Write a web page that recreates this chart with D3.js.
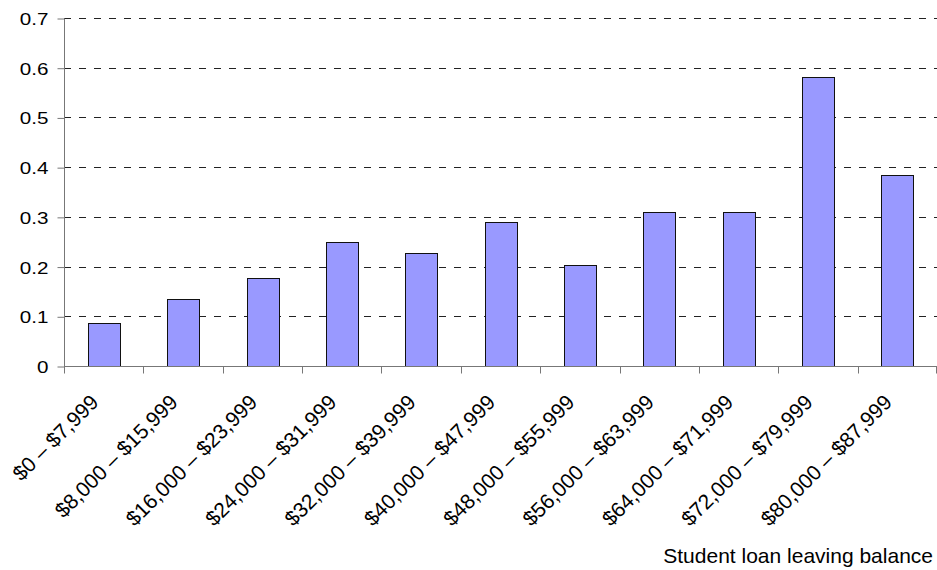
<!doctype html>
<html>
<head>
<meta charset="utf-8">
<style>
body { margin: 0; background: white; font-family: "Liberation Sans", Arial, sans-serif; }
</style>
<script src="https://cdnjs.cloudflare.com/ajax/libs/d3/7.8.5/d3.min.js"></script>
</head>
<body>
<div id="chart"></div>
<script>
var categories = ["$0 \u2013 $7,999", "$8,000 \u2013 $15,999", "$16,000 \u2013 $23,999", "$24,000 \u2013 $31,999",
  "$32,000 \u2013 $39,999", "$40,000 \u2013 $47,999", "$48,000 \u2013 $55,999", "$56,000 \u2013 $63,999",
  "$64,000 \u2013 $71,999", "$72,000 \u2013 $79,999", "$80,000 \u2013 $87,999"];
var values = [0.086, 0.134, 0.178, 0.249, 0.227, 0.29, 0.203, 0.31, 0.31, 0.581, 0.384];
var yTicks = [0, 0.1, 0.2, 0.3, 0.4, 0.5, 0.6, 0.7];
var xTitle = "Student loan leaving balance";

var width = 937, height = 570;
var mLeft = 64, mRight = 937, mTop = 18, mBottom = 366;

var svg = d3.select("#chart").append("svg")
  .attr("width", width).attr("height", height);

var x = d3.scaleBand().domain(categories).range([mLeft, mRight]);
var y = d3.scaleLinear().domain([0, 0.7]).range([mBottom, mTop]);

// dashed gridlines
svg.append("g").selectAll("line")
  .data(yTicks.filter(function(d) { return d > 0; }))
  .enter().append("line")
  .attr("x1", mLeft).attr("x2", mRight)
  .attr("y1", function(d) { return Math.round(y(d)) + 0.5; })
  .attr("y2", function(d) { return Math.round(y(d)) + 0.5; })
  .attr("stroke", "#222").attr("stroke-width", 1)
  .attr("stroke-dasharray", "7,8");

// bars
var bw = x.bandwidth() * 0.4;
svg.append("g").selectAll("rect")
  .data(values)
  .enter().append("rect")
  .attr("x", function(d, i) { return Math.round(x(categories[i]) + x.bandwidth() / 2 - bw / 2) + 0.5; })
  .attr("y", function(d) { return Math.round(y(d)) + 0.5; })
  .attr("width", Math.round(bw))
  .attr("height", function(d) { return Math.round(y(0)) - Math.round(y(d)); })
  .attr("fill", "#9999ff").attr("stroke", "#111").attr("stroke-width", 1);

// y axis
var yAxis = svg.append("g")
  .attr("transform", "translate(" + (mLeft + 0.5) + ",0.5)")
  .call(d3.axisLeft(y).tickValues(yTicks).tickSize(7).tickPadding(0)
    .tickFormat(function(d) { return d === 0 ? "0" : d3.format(".1f")(d); }));
yAxis.select(".domain").attr("stroke", "#777").attr("d", "M0," + mTop + "V" + mBottom);
yAxis.selectAll(".tick line").attr("stroke", "#777");
yAxis.selectAll("text")
  .attr("x", null).attr("dy", null)
  .attr("transform", "translate(-16,6) scale(1.25,1)")
  .attr("font-size", 16.5).attr("fill", "#000")
  .attr("font-family", "Liberation Sans, Arial, sans-serif");

// x axis
var xTickPos = categories.map(function(c) { return x(c); }).concat([mRight - 1]);
var xg = svg.append("g").attr("transform", "translate(0," + (mBottom + 0.5) + ")");
xg.append("line").attr("x1", mLeft).attr("x2", mRight).attr("stroke", "#777");
xg.selectAll(".xt").data(xTickPos).enter().append("line")
  .attr("class", "xt")
  .attr("x1", function(d) { return Math.round(d) + 0.5; })
  .attr("x2", function(d) { return Math.round(d) + 0.5; })
  .attr("y1", 0).attr("y2", 7).attr("stroke", "#777");
xg.selectAll("text").data(categories).enter().append("text")
  .attr("transform", function(d) {
    return "translate(" + (x(d) + x.bandwidth() / 2 - 4) + ",37) rotate(-45)";
  })
  .attr("text-anchor", "end")
  .attr("font-size", 21)
  .text(function(d) { return d; });

svg.append("text")
  .attr("x", 933).attr("y", 563)
  .attr("text-anchor", "end")
  .attr("font-size", 21)
  .text(xTitle);
</script>
</body>
</html>
